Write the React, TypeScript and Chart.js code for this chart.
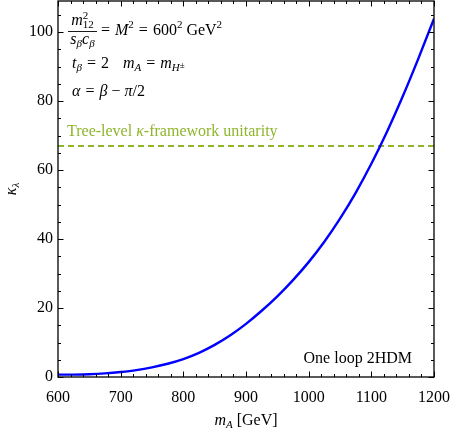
import React, { useEffect, useRef } from "react";
import { Chart, registerables } from "chart.js";

Chart.register(...registerables);

// ---- data ----
const massValues = [600, 625, 650, 675, 700, 725, 750, 775, 800, 825, 850, 875, 900, 925, 950, 975, 1000, 1025, 1050, 1075, 1100, 1125, 1150, 1175, 1200];
const kappaValues = [0.68, 0.7, 0.8, 1.05, 1.45, 2.0, 2.8, 3.85, 5.2, 7.0, 9.3, 12.1, 15.4, 19.2, 23.4, 28.1, 33.3, 39.2, 45.9, 53.4, 61.8, 71.1, 81.3, 92.3, 103.9];
const unitarityBound = 67;
const xRange = [600, 1200];
const yRange = [0, 109];
const xTickValues = [600, 700, 800, 900, 1000, 1100, 1200];
const yTickValues = [0, 20, 40, 60, 80, 100];
const xMinorStep = 20;
const yMinorStep = 5;

const FONT = '"Liberation Serif", "DejaVu Serif", serif';
const GREEN = "#8fb52b";
const FS = 16;

type Run = { t: string; it?: boolean; size?: number; dy?: number; dx?: number; noAdv?: boolean };

function setFont(ctx: CanvasRenderingContext2D, r: Run) {
  ctx.font = `${r.it ? "italic " : ""}${r.size || FS}px ${FONT}`;
}
function drawRuns(ctx: CanvasRenderingContext2D, x: number, y: number, runs: Run[]) {
  let cx = x;
  for (const r of runs) {
    setFont(ctx, r);
    cx += r.dx || 0;
    ctx.fillText(r.t, cx, y + (r.dy || 0));
    if (!r.noAdv) cx += ctx.measureText(r.t).width;
  }
  return cx;
}
function runsWidth(ctx: CanvasRenderingContext2D, runs: Run[]) {
  let w = 0;
  for (const r of runs) {
    setFont(ctx, r);
    w += r.dx || 0;
    if (!r.noAdv) w += ctx.measureText(r.t).width;
  }
  return w;
}

const REL = 5; // space around relations
const SUP = 11; // script size

const framePlugin = {
  id: "frame",
  afterDatasetsDraw(chart: any) {
    const { ctx, chartArea: a, scales } = chart;
    const xs = scales.x, ys = scales.y;
    ctx.save();
    ctx.strokeStyle = "#000";
    ctx.lineWidth = 1;
    ctx.beginPath();
    for (let v = xs.min; v <= xs.max + 1e-6; v += xMinorStep) {
      const px = Math.round(xs.getPixelForValue(v)) + 0.5;
      const len = xTickValues.includes(v) ? 5.5 : 3;
      ctx.moveTo(px, a.bottom); ctx.lineTo(px, a.bottom - len);
      ctx.moveTo(px, a.top); ctx.lineTo(px, a.top + len);
    }
    for (let v = ys.min; v <= ys.max + 1e-6; v += yMinorStep) {
      const py = Math.round(ys.getPixelForValue(v)) + 0.5;
      const len = yTickValues.includes(v) ? 5.5 : 3;
      ctx.moveTo(a.left, py); ctx.lineTo(a.left + len, py);
      ctx.moveTo(a.right, py); ctx.lineTo(a.right - len, py);
    }
    ctx.stroke();
    ctx.lineWidth = 1.3;
    ctx.strokeRect(a.left, a.top, a.right - a.left, a.bottom - a.top);
    ctx.restore();
  },
  afterDraw(chart: any) {
    const { ctx, chartArea: a } = chart;
    ctx.save();
    ctx.fillStyle = "#000";
    ctx.textBaseline = "alphabetic";
    ctx.textAlign = "left";

    // fraction m12^2 / (s_b c_b)
    const numer: Run[] = [
      { t: "m", it: true },
      { t: "2", size: SUP, dy: -6, noAdv: true },
      { t: "12", size: SUP, dy: 3 },
    ];
    const denom: Run[] = [
      { t: "s", it: true },
      { t: "β", it: true, size: SUP, dy: 3 },
      { t: "c", it: true },
      { t: "β", it: true, size: SUP, dy: 3 },
    ];
    const fx = 68, fw = 29;
    drawRuns(ctx, fx + (fw - runsWidth(ctx, numer)) / 2, 25, numer);
    drawRuns(ctx, fx + (fw - runsWidth(ctx, denom)) / 2, 44, denom);
    ctx.fillRect(fx, 31, fw, 0.9);
    drawRuns(ctx, fx + fw + 3, 35, [
      { t: "=", dx: 1 },
      { t: "M", it: true, dx: REL },
      { t: "2", size: SUP, dy: -7 },
      { t: "=", dx: REL },
      { t: "600", dx: REL },
      { t: "2", size: SUP, dy: -7 },
      { t: "GeV", dx: 4 },
      { t: "2", size: SUP, dy: -7 },
    ]);
    drawRuns(ctx, 72, 68, [
      { t: "t", it: true },
      { t: "β", it: true, size: SUP, dy: 3 },
      { t: "=", dx: REL },
      { t: "2", dx: REL },
    ]);
    drawRuns(ctx, 123, 68, [
      { t: "m", it: true },
      { t: "A", it: true, size: SUP, dy: 3 },
      { t: "=", dx: REL },
      { t: "m", it: true, dx: REL },
      { t: "H", it: true, size: SUP, dy: 3 },
      { t: "±", size: 9, dy: 0 },
    ]);
    drawRuns(ctx, 72, 96, [
      { t: "α", it: true },
      { t: "=", dx: REL },
      { t: "β", it: true, dx: REL },
      { t: "−", dx: 4 },
      { t: "π", it: true, dx: 4 },
      { t: "/2" },
    ]);

    // green label
    ctx.fillStyle = GREEN;
    drawRuns(ctx, 67, 136, [
      { t: "Tree-level " },
      { t: "κ", it: true },
      { t: "-framework unitarity" },
    ]);

    // lower-right label
    ctx.fillStyle = "#000";
    ctx.font = `${FS}px ${FONT}`;
    ctx.textAlign = "right";
    ctx.fillText("One loop 2HDM", 412, 363);
    ctx.textAlign = "left";

    // x title
    const xt: Run[] = [
      { t: "m", it: true },
      { t: "A", it: true, size: SUP, dy: 3 },
      { t: " [GeV]" },
    ];
    const cx = (a.left + a.right) / 2;
    drawRuns(ctx, cx - runsWidth(ctx, xt) / 2, 425, xt);

    // y title
    ctx.save();
    ctx.translate(16, (a.top + a.bottom) / 2);
    ctx.rotate(-Math.PI / 2);
    const yt: Run[] = [
      { t: "κ", it: true },
      { t: "λ", it: true, size: SUP, dy: 3 },
    ];
    drawRuns(ctx, -runsWidth(ctx, yt) / 2, 0, yt);
    ctx.restore();

    ctx.restore();
  },
};

export default function App() {
  const ref = useRef<HTMLCanvasElement>(null);
  useEffect(() => {
    document.body.style.margin = "0";
    const chart = new Chart(ref.current!, {
      type: "line",
      data: {
        datasets: [
          {
            label: "One loop 2HDM",
            data: massValues.map((m, i) => ({ x: m, y: kappaValues[i] })),
            borderColor: "#0000ff",
            borderWidth: 2.4,
            pointRadius: 0,
            cubicInterpolationMode: "monotone",
            fill: false,
          },
          {
            label: "Tree-level unitarity",
            data: xRange.map((m) => ({ x: m, y: unitarityBound })),
            borderColor: GREEN,
            borderWidth: 2,
            borderDash: [6, 4],
            pointRadius: 0,
            fill: false,
          },
        ],
      },
      options: {
        responsive: false,
        animation: false,
        layout: { padding: { top: 1, right: 18, left: 0, bottom: 0 } },
        plugins: { legend: { display: false }, tooltip: { enabled: false } },
        scales: {
          x: {
            type: "linear",
            min: xRange[0],
            max: xRange[1],
            grid: { display: false, drawTicks: false },
            border: { display: false },
            afterBuildTicks: (s: any) => { s.ticks = xTickValues.map((v) => ({ value: v })); },
            afterFit: (s: any) => {
              s.height = 58;
              s.paddingLeft = 0; s.paddingRight = 0; s.paddingTop = 0; s.paddingBottom = 0;
            },
            ticks: {
              color: "#000", font: { family: FONT, size: FS }, padding: 11, maxRotation: 0, autoSkip: false,
              callback: (v: any) => String(v),
            },
          },
          y: {
            type: "linear",
            min: yRange[0],
            max: yRange[1],
            grid: { display: false, drawTicks: false },
            border: { display: false },
            afterBuildTicks: (s: any) => { s.ticks = yTickValues.map((v) => ({ value: v })); },
            afterFit: (s: any) => {
              s.width = 58;
              s.paddingLeft = 0; s.paddingRight = 0; s.paddingTop = 0; s.paddingBottom = 0;
            },
            ticks: {
              color: "#000", font: { family: FONT, size: FS }, padding: 5, autoSkip: false,
              callback: (v: any) => String(v),
            },
          },
        },
      },
      plugins: [framePlugin],
    });
    return () => chart.destroy();
  }, []);
  return (
    <div style={{ position: "absolute", left: 0, top: 0 }}>
      <canvas ref={ref} width={452} height={435} />
    </div>
  );
}
